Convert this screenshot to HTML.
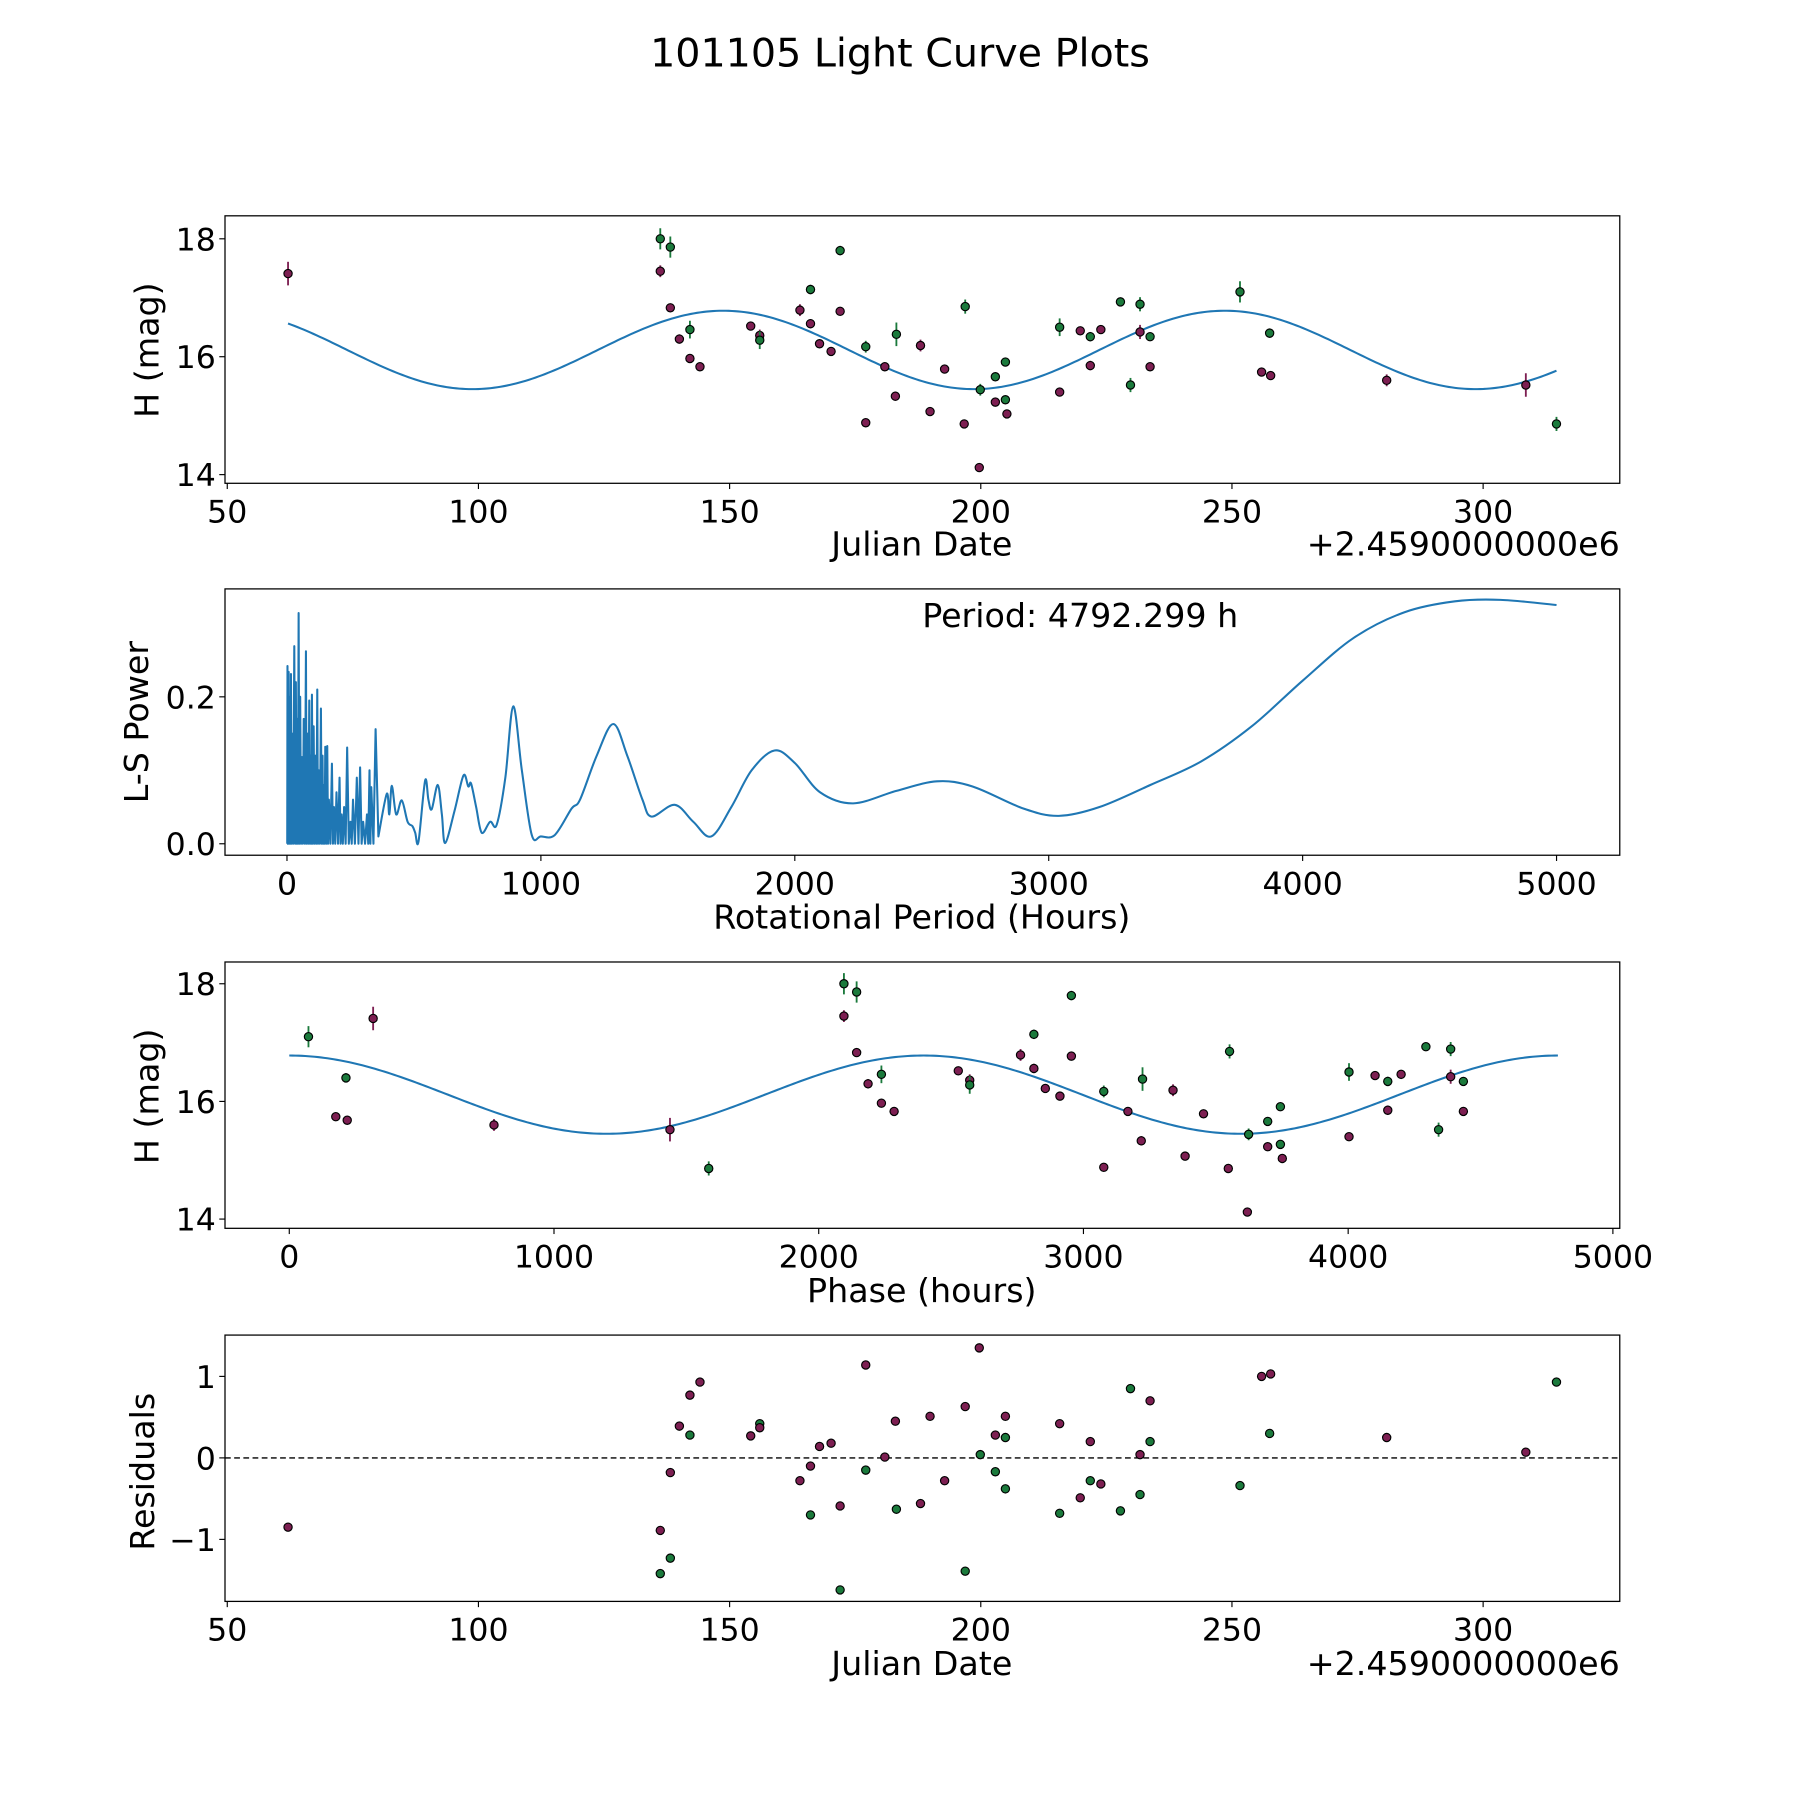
<!DOCTYPE html>
<html><head><meta charset="utf-8"><style>
html,body{margin:0;padding:0;background:#fff}
svg{display:block;font-family:"DejaVu Sans","Liberation Sans",sans-serif}
</style></head><body>
<svg id="fig" width="1800" height="1800" viewBox="0 0 1568 1568" xmlns="http://www.w3.org/2000/svg">
<rect width="1568" height="1568" fill="#fff"/>
<text x="784" y="58" font-size="34.5" text-anchor="middle">101105 Light Curve Plots</text>
</svg>
<script>
// ---- data ----
const obsJD = [62.1,136.2,136.2,138.2,138.2,140.0,142.1,142.1,144.1,154.2,156.0,156.0,164.0,166.1,166.1,167.9,170.2,172.0,172.0,177.1,177.1,180.9,183.2,183.0,188.0,189.9,192.8,196.9,196.7,199.9,199.7,202.9,202.9,204.9,204.9,205.2,215.7,215.7,219.8,221.8,221.8,223.9,227.8,229.8,231.7,231.7,233.7,233.7,251.6,255.9,257.5,257.7,280.8,308.5,314.6];
const obsMag = [17.41,18.0,17.45,17.86,16.83,16.30,16.46,15.97,15.83,16.52,16.36,16.28,16.79,17.14,16.56,16.22,16.09,17.80,16.77,16.17,14.88,15.83,16.38,15.33,16.19,15.07,15.79,16.85,14.86,15.44,14.12,15.66,15.23,15.91,15.27,15.03,16.50,15.40,16.44,16.34,15.85,16.46,16.93,15.52,16.89,16.42,16.34,15.83,17.10,15.74,16.40,15.68,15.60,15.52,14.86];
const obsErr = [0.2,0.18,0.1,0.18,0.06,0.08,0.15,0.06,0.06,0.06,0.1,0.15,0.1,0.08,0.08,0.06,0.06,0.08,0.06,0.1,0.06,0.06,0.2,0.08,0.1,0.06,0.06,0.12,0.06,0.1,0.06,0.06,0.06,0.06,0.06,0.06,0.15,0.06,0.06,0.08,0.08,0.06,0.06,0.12,0.12,0.12,0.06,0.06,0.18,0.06,0.08,0.06,0.1,0.2,0.12];
const obsFilter = ["p","g","p","g","p","p","g","p","p","p","p","g","p","g","p","p","p","g","p","g","p","p","g","p","p","p","p","g","p","g","p","g","p","g","g","p","g","p","p","g","p","p","g","g","g","p","g","p","g","p","g","p","p","p","g"];
const resJD = [62.1,136.2,136.2,138.2,138.2,140.0,142.1,142.1,144.1,154.2,156.0,156.0,164.0,166.1,166.1,167.9,170.2,172.0,172.0,177.1,177.1,180.9,183.0,183.2,188.0,189.9,192.8,196.9,196.9,199.7,199.9,202.9,202.9,204.9,204.9,204.9,215.7,215.7,219.8,221.8,221.8,223.9,227.8,229.8,231.7,231.7,233.7,233.7,251.6,255.9,257.5,257.7,280.8,308.5,314.6];
const resVal = [-0.85,-0.89,-1.42,-0.18,-1.23,0.39,0.77,0.28,0.93,0.27,0.42,0.37,-0.28,-0.10,-0.70,0.14,0.18,-0.59,-1.62,1.14,-0.15,0.01,0.45,-0.63,-0.56,0.51,-0.28,0.63,-1.39,1.35,0.04,0.28,-0.17,0.51,0.25,-0.38,0.42,-0.68,-0.49,0.20,-0.28,-0.32,-0.65,0.85,0.04,-0.45,0.70,0.20,-0.34,1.00,0.30,1.03,0.25,0.07,0.93];
const resFilter = ["p","p","g","p","g","p","p","g","p","p","g","p","p","p","g","p","p","p","g","p","g","p","p","g","p","p","p","p","g","p","g","p","g","p","g","g","p","g","p","p","g","p","g","g","p","g","p","g","g","p","g","p","p","p","g"];
const spikePeriod = [2,6.6,10,15.7,20,28.8,35,40,45.9,52,59,66,74.7,80,87.8,93,98.3,105,112,119.3,125,133.7,140,145,150.8,158.6,165,177,185,195,207,215,225,237,250,260,275,288,300,315,325,332,349];
const spikePower = [0.242,0.234,0.2,0.231,0.15,0.269,0.22,0.17,0.314,0.2,0.118,0.17,0.262,0.15,0.195,0.12,0.203,0.16,0.12,0.21,0.1,0.184,0.12,0.08,0.132,0.133,0.06,0.109,0.05,0.07,0.09,0.04,0.05,0.131,0.03,0.06,0.09,0.104,0.03,0.04,0.1,0.077,0.156];
const smoothPeriod = [360,393,403,413,430,452,475,494,505,518,544,557,570,594,610,623,660,695,714,725,745,767,800,826,860,891,925,964,1000,1055,1121,1154,1220,1285,1340,1400,1436,1527,1600,1671,1750,1830,1920,2000,2100,2230,2400,2560,2700,2900,3040,3200,3400,3600,3800,4000,4200,4400,4600,4780,5000];
const smoothPower = [0.01,0.068,0.04,0.079,0.04,0.059,0.03,0.024,0.015,0.003,0.086,0.06,0.047,0.08,0.04,0.001,0.045,0.093,0.078,0.082,0.05,0.015,0.03,0.026,0.09,0.187,0.1,0.012,0.01,0.012,0.048,0.06,0.12,0.163,0.12,0.06,0.037,0.053,0.03,0.01,0.05,0.1,0.127,0.11,0.07,0.055,0.072,0.085,0.078,0.048,0.038,0.05,0.08,0.112,0.16,0.222,0.28,0.315,0.33,0.332,0.325];
const bestPeriod = 4792.299;
const fitMean = 16.115, fitAmp = 0.665, fitT0 = 48.9;
const ticksJD = [50,100,150,200,250,300];
const ticksMag = [14,16,18];
const ticksPeriod = [0,1000,2000,3000,4000,5000];
const ticksPower = [0.0,0.2];
const tickPowerLabels = ["0.0","0.2"];
const ticksRes = [-1,0,1];
const tickResLabels = ["\u22121","0","1"];

// ---- rendering ----
const NS="http://www.w3.org/2000/svg";
const svg=document.getElementById('fig');
const COL={g:"#1b7a3c",p:"#7d1f52"}, BLUE="#1f77b4";
const FS=27.5, LFS=29;
function el(tag,attrs,parent){const e=document.createElementNS(NS,tag);for(const k in attrs)e.setAttribute(k,attrs[k]);(parent||svg).appendChild(e);return e;}
function axes(name,L,T,R,B,xmin,xmax,ymin,ymax){
  const g=el('g',{});
  
  
  const sx=v=>L+(v-xmin)/(xmax-xmin)*(R-L), sy=v=>B-(v-ymin)/(ymax-ymin)*(B-T);
  const clipId=name+'-clip';
  const cp=el('clipPath',{id:clipId},g); el('rect',{x:L,y:T,width:R-L,height:B-T},cp);
  const plot=el('g',{'clip-path':'url(#'+clipId+')'},g);
  return {g,plot,sx,sy,L,T,R,B};
}
function frame(a){const r=el('rect',{x:a.L,y:a.T,width:a.R-a.L,height:a.B-a.T,fill:'none',stroke:'#000','stroke-width':1.1},a.g);
  
  }
function xticks(a,vals,labels){vals.forEach((v,i)=>{const x=a.sx(v);el('line',{x1:x,x2:x,y1:a.B,y2:a.B+5,stroke:'#000','stroke-width':1},a.g);
  const t=el('text',{x:x,y:a.B+34,'font-size':FS,'text-anchor':'middle'},a.g);t.textContent=labels?labels[i]:String(v);
  
  });}
function yticks(a,vals,labels){vals.forEach((v,i)=>{const y=a.sy(v);el('line',{x1:a.L,x2:a.L-5,y1:y,y2:y,stroke:'#000','stroke-width':1},a.g);
  const t=el('text',{x:a.L-8,y:y+10,'font-size':FS,'text-anchor':'end'},a.g);t.textContent=labels?labels[i]:String(v);
  
  });}
function label(a,txt,x,y,rot,anchor,name){const t=el('text',{x:x,y:y,'font-size':LFS,'text-anchor':anchor||'middle'},a.g);
  if(rot)t.setAttribute('transform','rotate(-90 '+x+' '+y+')');t.textContent=txt;
  
  }
function model(t){return fitMean+fitAmp*Math.cos(4*Math.PI*(t-fitT0)*24/bestPeriod);}
function phaseOf(t){let p=((t-fitT0)*24)%bestPeriod;if(p<0)p+=bestPeriod;return p;}
function pts(a,xs,ys,errs,filt,name){xs.forEach((xv,i)=>{const x=a.sx(xv),y=a.sy(ys[i]);const c=COL[filt[i]];
  if(errs){const e=el('line',{x1:x,x2:x,y1:a.sy(ys[i]+errs[i]),y2:a.sy(ys[i]-errs[i]),stroke:c,'stroke-width':1.6},a.plot);
    
    }
  const m=el('circle',{cx:x,cy:y,r:3.6,fill:c,stroke:'#000','stroke-width':1},a.plot);
  
  });}

// Panel 1
const a1=axes('light-curve-panel',196,188,1411,421,49.55,327.2,13.853,18.39);
{let d='';for(let i=0;i<=400;i++){const t=obsJD[0]+(obsJD[obsJD.length-1]-obsJD[0])*i/400;d+=(i?'L':'M')+a1.sx(t).toFixed(2)+','+a1.sy(model(t)).toFixed(2);}
 const p=el('path',{d:d,fill:'none',stroke:BLUE,'stroke-width':1.8},a1.plot);
 
 }
pts(a1,obsJD,obsMag,obsErr,obsFilter,'observation-point');
frame(a1);xticks(a1,ticksJD);yticks(a1,ticksMag);
label(a1,'H (mag)',138,305,true,'middle','y-axis-title');
label(a1,'Julian Date',803,484,false,'middle','x-axis-title');
label(a1,'+2.4590000000e6',1411,484,false,'end','x-offset-text');

// Panel 2
const a2=axes('periodogram-panel',196,513,1411,745,-244.1,5249,-0.0156,0.3469);
{let d='M'+a2.sx(0)+','+a2.sy(0);
 spikePeriod.forEach((p,i)=>{const prev=i?spikePeriod[i-1]:0;d+='L'+a2.sx((p+prev)/2).toFixed(2)+','+a2.sy(0).toFixed(2)+'L'+a2.sx(p).toFixed(2)+','+a2.sy(spikePower[i]).toFixed(2);});
 const P=smoothPeriod.map((p,i)=>[a2.sx(p),a2.sy(smoothPower[i])]);
 d+='L'+P[0][0].toFixed(2)+','+P[0][1].toFixed(2);
 for(let i=0;i<P.length-1;i++){const p0=P[Math.max(i-1,0)],p1=P[i],p2=P[i+1],p3=P[Math.min(i+2,P.length-1)];
   d+='C'+(p1[0]+(p2[0]-p0[0])/6).toFixed(2)+','+(p1[1]+(p2[1]-p0[1])/6).toFixed(2)+' '+(p2[0]-(p3[0]-p1[0])/6).toFixed(2)+','+(p2[1]-(p3[1]-p1[1])/6).toFixed(2)+' '+p2[0].toFixed(2)+','+p2[1].toFixed(2);}
 const p=el('path',{d:d,fill:'none',stroke:BLUE,'stroke-width':1.8,'stroke-linejoin':'round'},a2.plot);
 
 }
frame(a2);xticks(a2,ticksPeriod);yticks(a2,ticksPower,tickPowerLabels);
label(a2,'Period: '+bestPeriod.toFixed(3)+' h',941,546,false,'middle','period-annotation');
label(a2,'L-S Power',129,629,true,'middle','y-axis-title');
label(a2,'Rotational Period (Hours)',803,809,false,'middle','x-axis-title');

// Panel 3
const a3=axes('phase-panel',196,838,1411,1070,-242.8,5026,13.843,18.37);
{let d='';for(let i=0;i<=400;i++){const ph=bestPeriod*i/400;d+=(i?'L':'M')+a3.sx(ph).toFixed(2)+','+a3.sy(model(fitT0+ph/24)).toFixed(2);}
 const p=el('path',{d:d,fill:'none',stroke:BLUE,'stroke-width':1.8},a3.plot);
 
 }
pts(a3,obsJD.map(phaseOf),obsMag,obsErr,obsFilter,'phased-point');
frame(a3);xticks(a3,ticksPeriod);yticks(a3,ticksMag);
label(a3,'H (mag)',138,955,true,'middle','y-axis-title');
label(a3,'Phase (hours)',803,1134,false,'middle','x-axis-title');

// Panel 4
const a4=axes('residuals-panel',196,1163,1411,1395,49.55,327.2,-1.761,1.507);
{const z=el('line',{x1:196,x2:1411,y1:a4.sy(0),y2:a4.sy(0),stroke:'#000','stroke-width':1.2,'stroke-dasharray':'5,3'},a4.plot);
 
 }
pts(a4,resJD,resVal,null,resFilter,'residual-point');
frame(a4);xticks(a4,ticksJD);yticks(a4,ticksRes,tickResLabels);
label(a4,'Residuals',134,1282,true,'middle','y-axis-title');
label(a4,'Julian Date',803,1459,false,'middle','x-axis-title');
label(a4,'+2.4590000000e6',1411,1459,false,'end','x-offset-text');
</script>
</body></html>
